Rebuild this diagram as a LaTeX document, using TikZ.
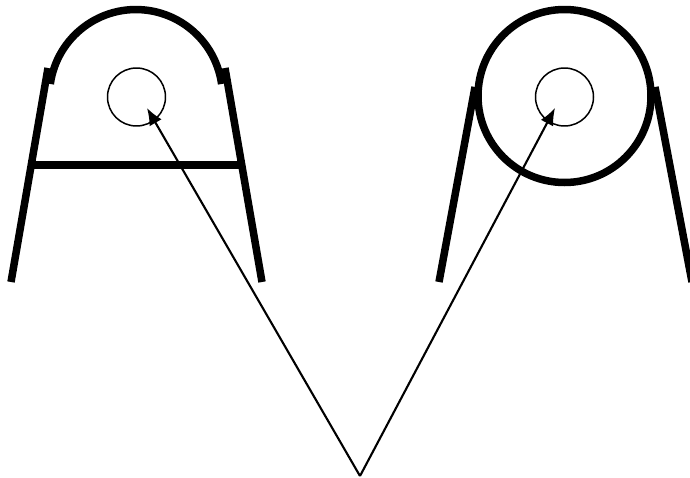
\documentclass[tikz,border=0pt]{standalone}
\usetikzlibrary{arrows.meta}
\tikzset{
  belt/.style={line width=.15cm},
  pointer/.style={line width=.042cm,-{Latex[length=.34cm,width=.28cm]}},
  hub/.style={circle,draw,line width=.03cm,minimum size=1.16cm,inner sep=0pt}
}

\begin{document}
\begin{tikzpicture}[x=.02cm,y=-.02cm]
\useasboundingbox (0,0) rectangle (690,477);
\clip (0,0) rectangle (690,477);
% left drum
\draw[belt] (50.3,84) arc[start angle=172,end angle=8,x radius=86.5,y radius=-86.5];
\draw[belt] (48,68)--(11,282);
\draw[belt] (225,68)--(262,282);
\draw[belt] (33,165)--(241,165);
\node[hub] (hubL) at (136.5,97) {};
% right drum
\draw[belt] (564.5,96) circle[radius=86.5];
\draw[belt] (475,87)--(439,282);
\draw[belt] (655,87)--(692,282);
\node[hub] (hubR) at (564.5,97) {};
% pointers
\coordinate (apex) at (360,476);
\coordinate (tipL) at (147,108);
\coordinate (tipR) at (555,108);
\draw[pointer] (apex)--(tipL);
\draw[pointer] (apex)--(tipR);
\end{tikzpicture}
\end{document}
